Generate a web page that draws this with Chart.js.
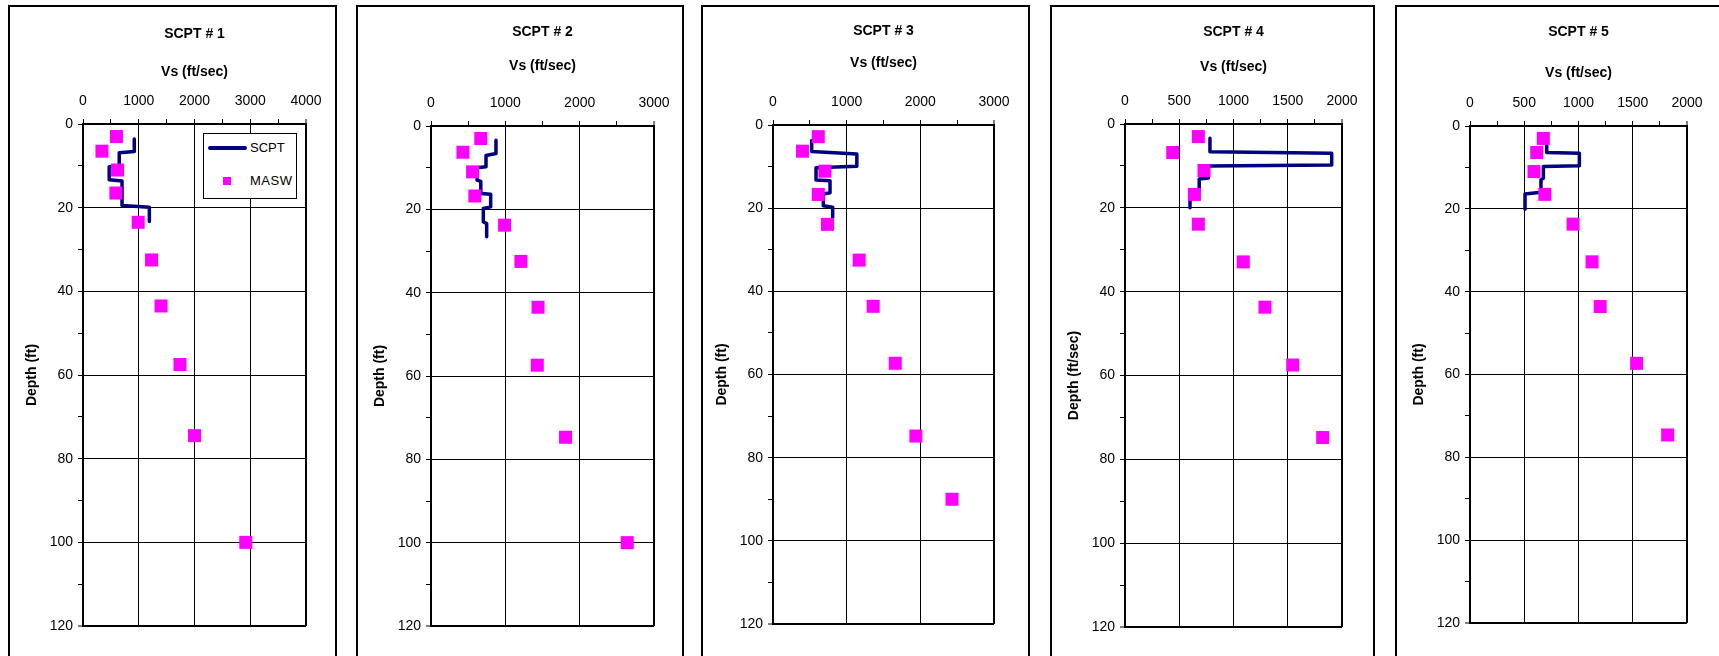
<!DOCTYPE html>
<html>
<head>
<meta charset="utf-8">
<title>SCPT vs MASW shear wave velocity</title>
<script src="https://cdn.jsdelivr.net/npm/chart.js"></script>
<style>
  html, body { margin: 0; padding: 0; background: #fff; }
  body { width: 1719px; height: 656px; position: relative; overflow: hidden; font-family: "Liberation Sans", Arial, sans-serif; }
  .box { position: absolute; top: 5px; height: 720px; border: 2px solid #000; box-sizing: border-box; }
  canvas { position: absolute; top: 0; }
  .legend { position: absolute; left: 203px; top: 133px; width: 94px; height: 66px; border: 1px solid #000; box-sizing: border-box; background: #fff; z-index: 5; font-size: 13px; color: #000; }
  .legend span { position: absolute; }
  .legend .txt { line-height: 16px; }
</style>
</head>
<body>
<div class="legend">
  <span style="left:4px;top:12px;width:39px;height:4px;background:#000080;border-radius:2px"></span>
  <span class="txt" style="left:46px;top:6px">SCPT</span>
  <span style="left:19px;top:43px;width:8px;height:8px;background:#ff00ff"></span>
  <span class="txt" style="left:46px;top:39px;letter-spacing:0.5px">MASW</span>
</div>
<script>
const panelTitles = ["SCPT # 1", "SCPT # 2", "SCPT # 3", "SCPT # 4", "SCPT # 5"];
const xAxisTitle = "Vs (ft/sec)";
const yAxisTitles = ["Depth (ft)", "Depth (ft)", "Depth (ft)", "Depth (ft/sec)", "Depth (ft)"];
const vsMax = [4000, 3000, 3000, 2000, 2000];
const vsMajor = [1000, 1000, 1000, 500, 500];
const depthMax = 120;
const depthMajor = 20;

// MASW points (Vs ft/sec, depth ft)
const maswVs1 = [600, 340, 620, 590, 990, 1230, 1400, 1740, 2000, 2920];
const maswDepth1 = [3, 6.5, 11, 16.5, 23.5, 32.5, 43.5, 57.5, 74.5, 100];
const maswVs2 = [670, 430, 560, 590, 990, 1210, 1440, 1430, 1810, 2640];
const maswDepth2 = [3, 6.3, 11, 16.8, 23.8, 32.5, 43.5, 57.4, 74.7, 100];
const maswVs3 = [615, 400, 705, 615, 740, 1170, 1360, 1660, 1940, 2430];
const maswDepth3 = [2.8, 6.3, 11.1, 16.7, 23.9, 32.5, 43.6, 57.3, 74.8, 90];
const maswVs4 = [676, 440, 728, 640, 676, 1090, 1290, 1546, 1822];
const maswDepth4 = [3, 6.8, 11.1, 16.8, 23.9, 32.9, 43.7, 57.5, 74.8];
const maswVs5 = [676, 615, 590, 690, 950, 1125, 1200, 1536, 1822];
const maswDepth5 = [3, 6.4, 11, 16.5, 23.7, 32.8, 43.6, 57.3, 74.6];

// SCPT step profiles
const scptVs1 = [920, 920, 650, 650, 470, 470, 700, 700, 1190, 1190];
const scptDepth1 = [3.6, 6.6, 6.9, 10.0, 10.2, 13.3, 13.6, 19.5, 19.9, 23.3];
const scptVs2 = [874, 874, 740, 740, 620, 620, 670, 670, 803, 803, 704, 704, 749, 749];
const scptDepth2 = [3.4, 6.6, 7.1, 9.8, 10.0, 13.0, 13.3, 16.2, 16.4, 19.4, 19.8, 23.0, 23.4, 26.6];
const scptVs3 = [525, 525, 1138, 1138, 584, 584, 774, 774, 683, 683, 810, 810];
const scptDepth3 = [3.7, 6.4, 7.0, 9.9, 10.3, 13.2, 13.4, 16.3, 16.6, 19.4, 19.8, 22.3];
const scptVs4 = [783, 783, 1905, 1905, 768, 768, 684, 684, 599, 599];
const scptDepth4 = [3.4, 6.6, 7.0, 9.8, 10.0, 12.9, 13.1, 16.2, 16.5, 20.0];
const scptVs5 = [707, 707, 1008, 1008, 676, 676, 654, 654, 507, 507];
const scptDepth5 = [3.2, 6.4, 6.6, 9.6, 9.8, 12.6, 13.0, 16.0, 16.4, 20.1];

const maswVs = [maswVs1, maswVs2, maswVs3, maswVs4, maswVs5];
const maswDepth = [maswDepth1, maswDepth2, maswDepth3, maswDepth4, maswDepth5];
const scptVs = [scptVs1, scptVs2, scptVs3, scptVs4, scptVs5];
const scptDepth = [scptDepth1, scptDepth2, scptDepth3, scptDepth4, scptDepth5];

// page layout of each panel: box x-range, plot area, text positions
const layout = [
  { box: [8, 337], plot: [83, 124, 306, 626], titleY: 34, xTitleY: 72, yTitleX: 24 },
  { box: [356, 684], plot: [431, 126, 654, 626], titleY: 32, xTitleY: 66, yTitleX: 24 },
  { box: [701, 1030], plot: [773, 125, 994, 624], titleY: 31, xTitleY: 63, yTitleX: 21 },
  { box: [1050, 1375], plot: [1125, 124, 1342, 627], titleY: 32, xTitleY: 67, yTitleX: 24 },
  { box: [1395, 1725], plot: [1470, 126, 1687, 623], titleY: 32, xTitleY: 73, yTitleX: 24 },
];

const H = 656;
const FONT = "'Liberation Sans', Arial, sans-serif";
Chart.defaults.font.family = FONT;
Chart.defaults.font.size = 14;
Chart.defaults.color = "#000";

const pts = (xs, ys) => xs.map((x, i) => ({ x, y: ys[i] }));

layout.forEach((p, i) => {
  const [bl, br] = p.box;
  const [pl, pt, pr, pb] = p.plot;
  const w = br - bl;

  const box = document.createElement("div");
  box.className = "box";
  box.style.left = bl + "px";
  box.style.width = w + "px";
  document.body.appendChild(box);

  const canvas = document.createElement("canvas");
  canvas.width = w;
  canvas.height = H;
  canvas.style.left = bl + "px";
  canvas.style.width = w + "px";
  canvas.style.height = H + "px";
  document.body.appendChild(canvas);

  const major = vsMajor[i];
  const max = vsMax[i];

  new Chart(canvas, {
    type: "scatter",
    data: {
      datasets: [
        {
          label: "MASW",
          data: pts(maswVs[i], maswDepth[i]),
          showLine: false,
          pointStyle: "rect",
          pointRadius: 9.2,
          pointHoverRadius: 9.2,
          backgroundColor: "#ff00ff",
          borderColor: "#ff00ff",
          borderWidth: 0,
        },
        {
          label: "SCPT",
          data: pts(scptVs[i], scptDepth[i]),
          showLine: true,
          pointRadius: 0,
          borderColor: "#000080",
          borderWidth: 3.5,
          borderJoinStyle: "round",
          borderCapStyle: "round",
        },
      ],
    },
    options: {
      responsive: false,
      animation: false,
      devicePixelRatio: 1,
      layout: { padding: { left: 0, top: 0, right: w - (pr - bl), bottom: H - pb } },
      plugins: {
        legend: { display: false },
        tooltip: { enabled: false },
        title: {
          display: true,
          text: panelTitles[i],
          fullSize: false,
          font: { size: 14, weight: "bold" },
          color: "#000",
          padding: { top: p.titleY - 8.4, bottom: 0 },
        },
      },
      scales: {
        x: {
          type: "linear",
          position: "top",
          min: 0,
          max: max,
          afterFit: (s) => { s.height = pt - p.titleY - 8.4; },
          ticks: {
            stepSize: major / 2,
            autoSkip: false,
            maxRotation: 0,
            padding: 9,
            callback: (v) => (v % major === 0 ? v : ""),
          },
          grid: {
            color: (c) => (c.tick && c.tick.value % major === 0 ? "#000" : "rgba(0,0,0,0)"),
            lineWidth: (c) => (c.tick && c.tick.value === max ? 2 : 1),
            tickColor: "#000",
            tickWidth: 1,
            tickLength: 5,
          },
          border: { display: true, color: "#000", width: 2 },
          title: {
            display: true,
            text: xAxisTitle,
            font: { size: 14, weight: "bold" },
            padding: { top: p.xTitleY - p.titleY - 16.8, bottom: 0 },
          },
        },
        y: {
          type: "linear",
          position: "left",
          reverse: true,
          min: 0,
          max: depthMax,
          afterFit: (s) => { s.width = pl - bl; },
          ticks: {
            stepSize: depthMajor / 2,
            autoSkip: false,
            padding: 5,
            callback: (v) => (v % depthMajor === 0 ? v : ""),
          },
          grid: {
            color: (c) => (c.tick && c.tick.value % depthMajor === 0 ? "#000" : "rgba(0,0,0,0)"),
            lineWidth: (c) => (c.tick && c.tick.value === depthMax ? 2 : 1),
            tickColor: "#000",
            tickWidth: 1,
            tickLength: 5,
          },
          border: { display: true, color: "#000", width: 2 },
          title: {
            display: true,
            text: yAxisTitles[i],
            font: { size: 14, weight: "bold" },
            padding: { top: p.yTitleX - 8.4, bottom: 0 },
          },
        },
      },
    },
  });
});
</script>
</body>
</html>
